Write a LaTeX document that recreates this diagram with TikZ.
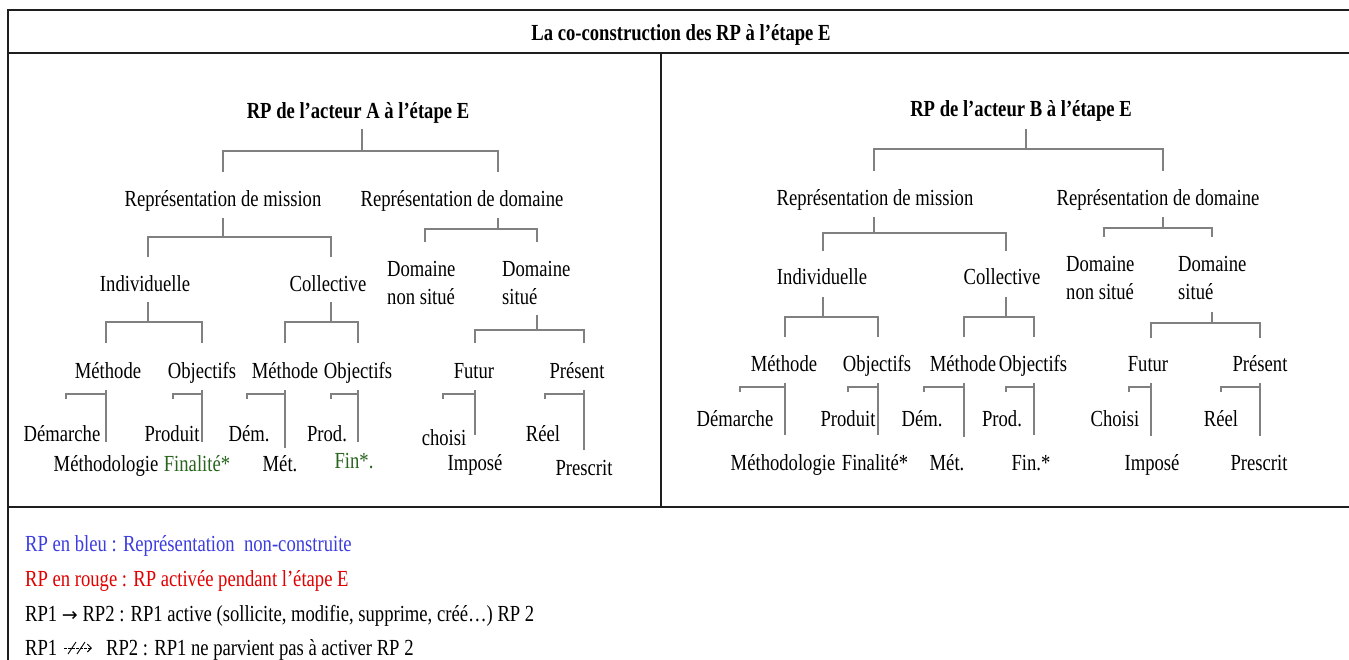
\documentclass[tikz,border=0pt]{standalone}
\usepackage{fontspec}
\setmainfont[FakeStretch=0.81]{Liberation Serif}
\newfontfamily\symfont{DejaVu Sans}
\usetikzlibrary{arrows.meta}
\definecolor{conncol}{RGB}{128,128,128}
\definecolor{framecol}{RGB}{30,30,30}
\definecolor{greentxt}{RGB}{40,100,30}
\definecolor{bluetxt}{RGB}{60,60,225}
\definecolor{redtxt}{RGB}{225,0,0}
\tikzset{
  conn/.style={draw=conncol, line width=1.2pt},
  frame/.style={draw=framecol, line width=1.8pt},
  lab/.style={inner sep=0pt, anchor=base, font=\fontsize{23}{28}\selectfont},
  blab/.style={lab, font=\fontsize{23}{28}\selectfont\bfseries},
  two/.style={lab, anchor=base west, align=left},
  leg/.style={inner sep=0pt, anchor=base west, font=\fontsize{23}{28}\selectfont},
}
\newcommand\tbr[6]{\draw[conn] (#1,#2) -- (#1,#3) (#4,#6) |- (#5,#3) -- (#5,#6);}
\newcommand\sbr[4]{\draw[conn] (#1,#3+5) -- (#1,#3) -- (#2,#3); \draw[conn] (#2,#3-4) -- (#2,#4);}
\begin{document}
\begin{tikzpicture}[x=1pt,y=-1pt]
\useasboundingbox (0,0) rectangle (1349,659);
% frame
\draw[frame] (8,661) -- (8,10) -- (1351,10);
\draw[frame] (8,53) -- (1351,53);
\draw[frame] (661,53) -- (661,507);
\draw[frame] (8,507) -- (1351,507);
\node[blab] (title) at (681,40) {La co-construction des RP à l’étape E};

% ---------- Tree A ----------
\node[blab] (rA) at (358,118) {RP de l’acteur A à l’étape E};
\node[lab] (mA) at (223,206) {Représentation de mission};
\node[lab] (dA) at (462,206) {Représentation de domaine};
\node[lab] (iA) at (145,291) {Individuelle};
\node[lab] (cA) at (328,291) {Collective};
\node[two] (nsA) at (387,304) {Domaine\\non situé};
\node[two] (sA) at (502,304) {Domaine\\situé};
\node[lab] (me1A) at (108,378) {Méthode};
\node[lab] (ob1A) at (202,378) {Objectifs};
\node[lab] (me2A) at (285,378) {Méthode};
\node[lab] (ob2A) at (358,378) {Objectifs};
\node[lab] (fuA) at (474,378) {Futur};
\node[lab] (prA) at (577,378) {Présent};
\node[lab] (l1A) at (62,441) {Démarche};
\node[lab] (l2A) at (106,471) {Méthodologie};
\node[lab] (l3A) at (172,441) {Produit};
\node[lab,text=greentxt] (l4A) at (197,471) {Finalité*};
\node[lab] (l5A) at (249,441) {Dém.};
\node[lab] (l6A) at (280,471) {Mét.};
\node[lab] (l7A) at (327,441) {Prod.};
\node[lab,text=greentxt] (l8A) at (354,468) {Fin*.};
\node[lab] (l9A) at (444,445) {choisi};
\node[lab] (l10A) at (475,470) {Imposé};
\node[lab] (l11A) at (543,441) {Réel};
\node[lab] (l12A) at (584,475) {Prescrit};

\tbr{362}{129}{151}{223}{498}{172}
\tbr{223}{218}{237}{148}{331}{257}
\tbr{498}{218}{229}{425}{537}{242}
\tbr{148}{302}{322}{106}{202}{343}
\tbr{331}{302}{322}{285}{358}{343}
\tbr{537}{315}{330}{475}{584}{343}
\sbr{66}{106}{394}{442}
\sbr{173}{202}{394}{442}
\sbr{247}{285}{394}{448}
\sbr{331}{358}{394}{442}
\sbr{443}{475}{394}{435}
\sbr{545}{584}{394}{450}

% ---------- Tree B ----------
\node[blab] (rB) at (1021,116) {RP de l’acteur B à l’étape E};
\node[lab] (mB) at (875,205) {Représentation de mission};
\node[lab] (dB) at (1158,205) {Représentation de domaine};
\node[lab] (iB) at (822,284) {Individuelle};
\node[lab] (cB) at (1002,284) {Collective};
\node[two] (nsB) at (1066,299) {Domaine\\non situé};
\node[two] (sB) at (1178,299) {Domaine\\situé};
\node[lab] (me1B) at (784,371) {Méthode};
\node[lab] (ob1B) at (877,371) {Objectifs};
\node[lab] (me2B) at (963,371) {Méthode};
\node[lab] (ob2B) at (1033,371) {Objectifs};
\node[lab] (fuB) at (1148,371) {Futur};
\node[lab] (prB) at (1260,371) {Présent};
\node[lab] (l1B) at (735,426) {Démarche};
\node[lab] (l2B) at (783,470) {Méthodologie};
\node[lab] (l3B) at (848,426) {Produit};
\node[lab] (l4B) at (875,470) {Finalité*};
\node[lab] (l5B) at (922,426) {Dém.};
\node[lab] (l6B) at (947,470) {Mét.};
\node[lab] (l7B) at (1002,426) {Prod.};
\node[lab] (l8B) at (1031,470) {Fin.*};
\node[lab] (l9B) at (1115,426) {Choisi};
\node[lab] (l10B) at (1152,470) {Imposé};
\node[lab] (l11B) at (1221,426) {Réel};
\node[lab] (l12B) at (1259,470) {Prescrit};

\tbr{1026}{129}{149}{874}{1163}{171}
\tbr{874}{217}{233}{823}{1006}{251}
\tbr{1163}{217}{228}{1104}{1212}{237}
\tbr{823}{297}{317}{785}{878}{337}
\tbr{1006}{297}{317}{964}{1034}{337}
\tbr{1212}{312}{323}{1151}{1260}{338}
\sbr{740}{785}{387}{435}
\sbr{848}{878}{387}{435}
\sbr{924}{964}{387}{437}
\sbr{1006}{1034}{387}{435}
\sbr{1129}{1151}{387}{436}
\sbr{1221}{1260}{387}{436}

% ---------- Legend ----------
\node[leg,text=bluetxt] (lg1) at (25,551) {RP en bleu : Représentation\ \ non-construite};
\node[leg,text=redtxt] (lg2) at (25,586) {RP en rouge : RP activée pendant l’étape E};
\node[leg] (lg3) at (25,621) {RP1 {\symfont\fontsize{19}{19}\selectfont →} RP2 : RP1 active (sollicite, modifie, supprime, créé…) RP 2};
\node[leg] (lg4a) at (25,655) {RP1};
\node[leg] (lg4b) at (106,655) {RP2 : RP1 ne parvient pas à activer RP 2};
\coordinate (s1) at (64,648);
\coordinate (s2) at (92,648);
\draw[line width=0.9pt, dash pattern=on 2.5pt off 1.5pt, -{Straight Barb[length=4pt,width=8pt,line width=0.9pt]}] (s1) -- (s2);
\draw[line width=0.9pt] (68,654) -- (76,642) (77,654) -- (85,642);
\end{tikzpicture}
\end{document}
